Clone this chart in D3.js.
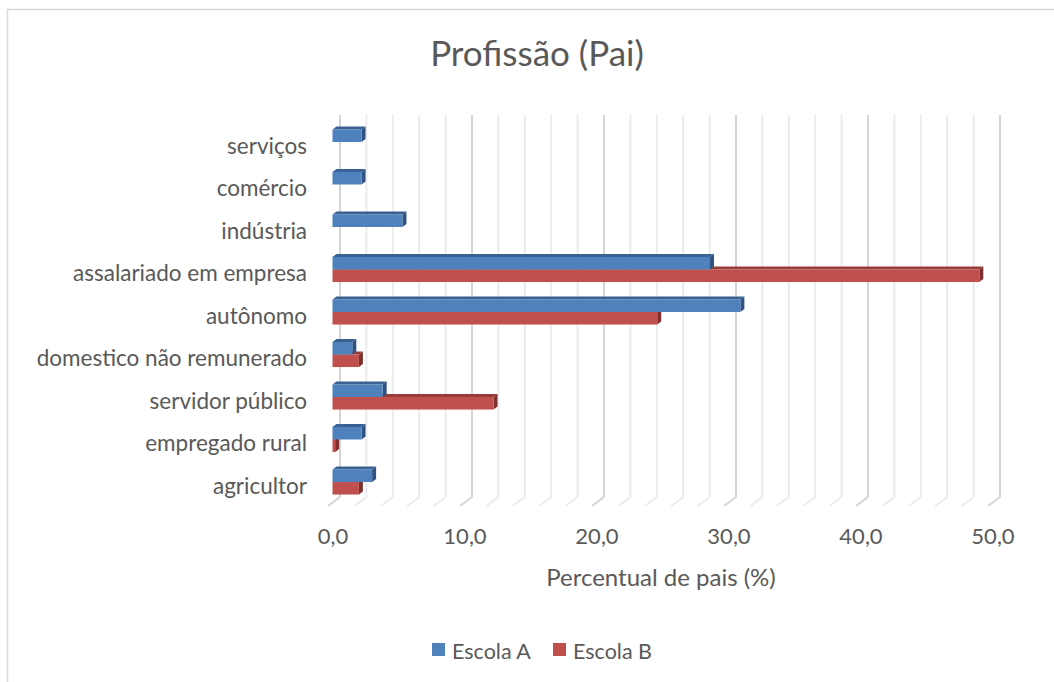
<!DOCTYPE html>
<html><head><meta charset="utf-8">
<script src="https://cdn.jsdelivr.net/npm/d3@7"></script>
<style>
body{margin:0;background:#fff}
svg text{font-family:Lato,"Open Sans",sans-serif;fill:#595959}
</style>
</head><body>
<svg id="c" width="1054" height="682"></svg>
<script>
const categories = ["serviços","comércio","indústria","assalariado em empresa","autônomo","domestico não remunerado","servidor público","empregado rural","agricultor"];
const escolaA = [2.2,2.2,5.3,28.6,30.9,1.5,3.8,2.2,3.0];
const escolaB = [0,0,0,49.0,24.6,2.0,12.2,0.2,2.0];
const seriesNames = ["Escola A","Escola B"];
const tickValues = [0,10,20,30,40,50];
const gridValues = d3.range(0,51,2);
const title = "Profissão (Pai)";
const xTitle = "Percentual de pais (%)";

const colors = {
  "Escola A": {front:"#4F81BD", top:"#3A6192", side:"#2F5282"},
  "Escola B": {front:"#C0504D", top:"#983C39", side:"#7F302E"}
};

const svg = d3.select("#c");
// chart border
svg.append("rect").attr("x",7.5).attr("y",9.5).attr("width",1060).attr("height",700)
  .attr("fill","#fff").attr("stroke","#d9d9d9").attr("stroke-width",1.5);

const x = d3.scaleLinear().domain([0,50]).range([332.5,992.5]);
const y = d3.scaleBand().domain(categories).range([120.75,503.25]).paddingInner(0.41).paddingOuter(0.205);
const sub = d3.scaleBand().domain(seriesNames).range([0,y.bandwidth()]);

const backDx = 7.5, wallTop = 115, wallBottom = 497, floorDx = -12, floorDy = 9;
const dDx = 4, dDy = -3;

// gridlines
const grid = svg.append("g");
gridValues.forEach(v=>{
  const major = v % 10 === 0;
  const gx = x(v)+backDx;
  grid.append("path")
    .attr("d",`M${gx},${wallTop}L${gx},${wallBottom}L${gx+floorDx},${wallBottom+floorDy}`)
    .attr("fill","none")
    .attr("stroke", major ? "#d4d4d4" : "#ececec")
    .attr("stroke-width", 2);
});

// bars
const rows = categories.map((c,i)=>({cat:c, vals:[{s:"Escola A",v:escolaA[i]},{s:"Escola B",v:escolaB[i]}]}));
const barsG = svg.append("g");
rows.forEach(r=>{
  [r.vals[1], r.vals[0]].forEach(d=>{
    if (d.v <= 0) return;
    const y0 = y(r.cat)+sub(d.s), h = sub.bandwidth();
    const x0 = x(0), xe = x(d.v);
    const c = colors[d.s];
    const g = barsG.append("g");
    g.append("path").attr("d",`M${x0},${y0}L${x0+dDx},${y0+dDy}L${xe+dDx},${y0+dDy}L${xe},${y0}Z`).attr("fill",c.top);
    g.append("path").attr("d",`M${xe},${y0}L${xe+dDx},${y0+dDy}L${xe+dDx},${y0+h+dDy}L${xe},${y0+h}Z`).attr("fill",c.side);
    g.append("rect").attr("x",x0).attr("y",y0).attr("width",Math.max(0,xe-x0)).attr("height",h).attr("fill",c.front);
  });
});

// x axis
const xAxis = d3.axisBottom(x).tickValues(tickValues).tickSize(0).tickPadding(0)
  .tickFormat(v=>d3.format(".1f")(v).replace(".",","));
const xg = svg.append("g").attr("transform","translate(0,528)").call(xAxis);
xg.select(".domain").remove();
xg.selectAll("text").attr("font-size",22).attr("fill","#595959").style("font-family","Lato");

// y axis labels
const yAxis = d3.axisLeft(y).tickSize(0).tickPadding(0);
const yg = svg.append("g").attr("transform","translate(307,0)").call(yAxis);
yg.select(".domain").remove();
yg.selectAll("text").attr("font-size",22.5).attr("dy","0.52em").attr("fill","#595959").style("font-family","Lato");

// title
svg.append("text").attr("x",537).attr("y",66).attr("text-anchor","middle").attr("font-size",35).text(title);
// x title
svg.append("text").attr("x",661).attr("y",586).attr("text-anchor","middle").attr("font-size",24).text(xTitle);

// legend
const leg = svg.append("g");
const legX = [432,553];
seriesNames.forEach((s,i)=>{
  leg.append("rect").attr("x",legX[i]).attr("y",643).attr("width",13).attr("height",13).attr("fill",colors[s].front);
  leg.append("text").attr("x",legX[i]+20).attr("y",659).attr("font-size",21.5).text(s);
});
</script>
</body></html>
